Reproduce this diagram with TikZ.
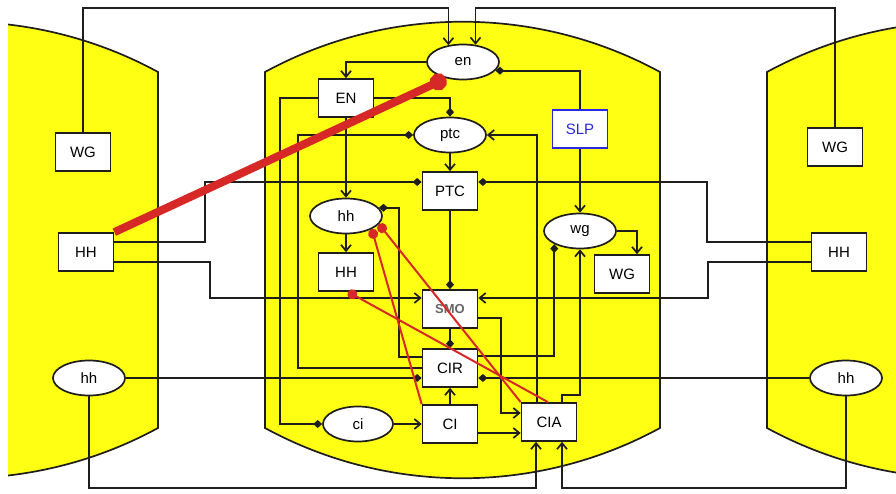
\documentclass[tikz,border=0pt]{standalone}
\usepackage{fontspec}
\setmainfont{Liberation Sans}
\usetikzlibrary{shapes.geometric,arrows.meta,calc}
\definecolor{cellyellow}{RGB}{255,255,20}
\definecolor{lc}{RGB}{30,30,30}
\definecolor{rd}{RGB}{215,40,40}
\definecolor{slpblue}{RGB}{40,40,230}
\begin{document}
\begin{tikzpicture}[x=1pt,y=-1pt,
  ln/.style={line width=1.7pt,draw=lc},
  act/.style={ln,-{Straight Barb[length=6pt,width=10pt]}},
  inh/.style={ln,-{Diamond[length=9pt,width=8pt]}},
  rthin/.style={draw=rd,line width=2pt,{Circle[length=10pt]}-},
  rthick/.style={draw=rd,line width=8pt,{Circle[length=17pt]}-},
  box/.style={draw=lc,line width=1.7pt,fill=white,minimum width=55pt,minimum height=38pt,inner sep=0pt,font=\fontsize{15}{18}\selectfont},
  ell/.style={ellipse,draw=lc,line width=1.7pt,fill=white,minimum width=72pt,minimum height=35pt,inner sep=0pt,font=\fontsize{15}{18}\selectfont},
  cell/.style={fill=cellyellow,draw=lc,line width=1.7pt}
]
\useasboundingbox (0,0) rectangle (896,494);
\fill[white] (0,0) rectangle (896,494);
% cells
\begin{scope}
\clip (8,0) rectangle (896,494);
\foreach \s in {-502,0,502}{
  \path[cell,shift={(\s,0)}] (265,72) .. controls (388,5) and (537,5) .. (660,72)
     -- (660,428) .. controls (537,495) and (388,495) .. (265,428) -- cycle;
}
\end{scope}
% nodes
\node[box] (WGL) at (83,152) {WG};
\node[box] (HHL) at (86,252) {HH};
\node[ell] (hhL) at (89,378) {hh};
\node[box] (WGR) at (835,147) {WG};
\node[box] (HHR) at (839,252) {HH};
\node[ell] (hhR) at (846,378) {hh};
\node[ell,minimum width=72pt] (en) at (463,62) {en};
\node[box] (EN) at (346,98) {EN};
\node[ell] (ptc) at (450,135) {ptc};
\node[box,draw=slpblue,text=slpblue] (SLP) at (580,129) {SLP};
\node[box] (PTC) at (450,191) {PTC};
\node[ell] (hhM) at (346,216) {hh};
\node[box] (HHM) at (346,272) {HH};
\node[box,font=\fontsize{13}{15}\selectfont\bfseries,text=black!60] (SMO) at (450,309) {SMO};
\node[ell] (wg) at (580,231) {wg};
\node[box] (WGM) at (622,274) {WG};
\node[box] (CIR) at (450,368) {CIR};
\node[ell,minimum width=70pt] (ci) at (358,424) {ci};
\node[box] (CI) at (450,424) {CI};
\node[box] (CIA) at (549,422) {CIA};
\coordinate (top) at (0,8);
% activations
\draw[act] (WGL.north) |- (en.131 |- top) -- (en.131);
\draw[act] (WGR.north) |- (en.54 |- top) -- (en.54);
\draw[act] (en.west) -| (EN.north);
\draw[act] (SLP.south) -- (wg.north);
\draw[act] (EN.south) -- (hhM.north);
\draw[act] (hhM.south) -- (HHM.north);
\draw[act] (ptc.south) -- (PTC.north);
\draw[act] ([xshift=-12pt]CIA.north) |- (ptc.east);
\draw[act] ([xshift=13pt]CIA.north) -- ++(0,-7) -| (wg.south);
\draw[act] ($(HHL.east)+(0,10)$) -- (210,262) |- ($(SMO.west)+(0,-11)$);
\draw[act] ($(HHR.west)+(0,10)$) -- (708,262) |- ($(SMO.east)+(0,-11)$);
\draw[act] (wg.east) -| ([xshift=15pt]WGM.north);
\draw[act] (ci.east) -- (CI.west);
\draw[act] (CI.north) -- (CIR.south);
\draw[act] ($(SMO.east)+(0,9)$) -- (501,318) |- ($(CIA.west)+(0,-9)$);
\draw[act] ($(CI.east)+(0,9)$) -- ($(CIA.west)+(0,11)$);
\draw[act] (hhL.south) |- (536,488) -- ([xshift=-13pt]CIA.south);
\draw[act] (hhR.south) |- (562,488) -- ([xshift=13pt]CIA.south);
% inhibitions
\draw[inh] (SLP.north) |- (en.-15);
\draw[inh] (EN.east) -| (ptc.north);
\draw[inh] (EN.west) -- ++(-38,0) |- (ci.west);
\draw[inh] (CIR.west) -- (298,368) |- (ptc.west);
\draw[inh] ($(CIR.west)+(0,-11)$) -| ($(hhM.14)+(20,0)$) -- (hhM.14);
\draw[inh] (PTC.south) -- (SMO.north);
\draw[inh] (SMO.south) -- (CIR.north);
\draw[inh] ($(CIR.east)+(0,-12)$) -| (wg.-153);
\draw[inh] ($(HHL.east)+(0,-10)$) -- (205,242) |- ($(PTC.west)+(0,-9)$);
\draw[inh] ($(HHR.west)+(0,-10)$) -- (707,242) |- ($(PTC.east)+(0,-9)$);
\draw[inh] (hhL.east) -- ($(CIR.west)+(0,10)$);
\draw[inh] (hhR.west) -- ($(CIR.east)+(0,10)$);
% red links
\draw[rthick] (en.-136) -- (HHL.north east);
\draw[rthin] ([xshift=2pt]HHM.south) -- ([xshift=-1pt]CIA.north);
\draw[rthin] (hhM.-14) -- (CIA.north west);
\draw[rthin] (hhM.-27) -- (CI.north west);
\end{tikzpicture}
\end{document}
